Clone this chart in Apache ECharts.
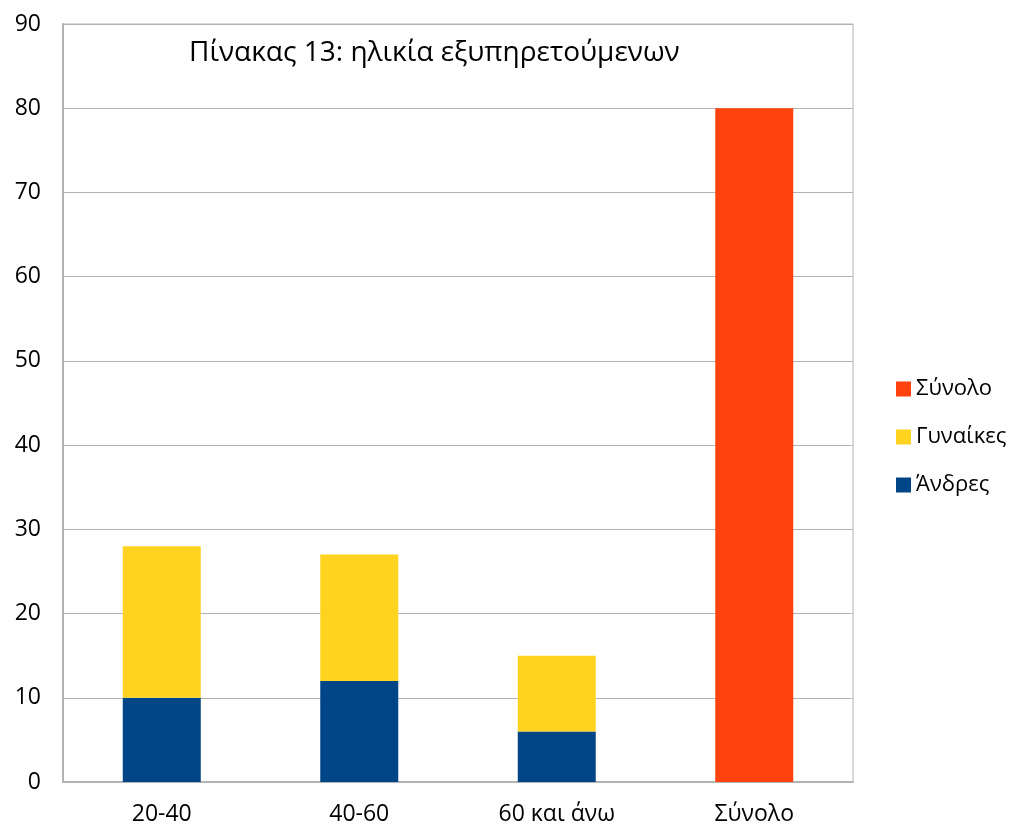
<!DOCTYPE html>
<html>
<head>
<meta charset="utf-8">
<script src="https://cdn.jsdelivr.net/npm/echarts@6/dist/echarts.min.js"></script>
<style>
    html, body { margin: 0; padding: 0; background: #fff; }
</style>
</head>
<body>
<div style="width:1010px;height:827px;" id="chart_con"></div>
<script>
// data
var categories = ['20-40', '40-60', '60 και άνω', 'Σύνολο'];
var andres = [10, 12, 6, '-'];
var gynaikes = [18, 15, 9, '-'];
var synolo = ['-', '-', '-', 80];
var yTicks = [0, 10, 20, 30, 40, 50, 60, 70, 80, 90];

var fontName = '"Open Sans", "Noto Sans", sans-serif';
var gridColor = '#b3b3b3';

var chart = echarts.init(document.getElementById('chart_con'));
var option = {
    animation: false,
    backgroundColor: '#fff',
    title: {
        text: 'Πίνακας 13: ηλικία εξυπηρετούμενων',
        left: 184,
        top: 34,
        textStyle: { fontFamily: fontName, fontSize: 28, fontWeight: 'normal', color: '#000' }
    },
    legend: {
        orient: 'vertical',
        left: 891,
        top: 373,
        itemWidth: 15,
        itemHeight: 15,
        itemGap: 26,
        icon: 'rect',
        data: ['Σύνολο', 'Γυναίκες', 'Άνδρες'],
        textStyle: { fontFamily: fontName, fontSize: 22, color: '#000' }
    },
    grid: {
        left: 63,
        top: 24,
        width: 790,
        height: 758,
        show: true,
        borderColor: gridColor,
        borderWidth: 1
    },
    xAxis: {
        type: 'category',
        data: categories,
        axisTick: { show: false },
        axisLine: { lineStyle: { color: gridColor, width: 2 } },
        axisLabel: { fontFamily: fontName, fontSize: 23, color: '#000', margin: 21 }
    },
    yAxis: {
        type: 'value',
        min: yTicks[0],
        max: yTicks[yTicks.length - 1],
        interval: 10,
        axisLine: { show: true, lineStyle: { color: gridColor, width: 2 } },
        axisTick: { show: false },
        splitLine: { lineStyle: { color: gridColor, width: 1 } },
        axisLabel: { fontFamily: fontName, fontSize: 23, color: '#000', margin: 22 }
    },
    series: [
        { name: 'Άνδρες', type: 'bar', stack: 'a', barWidth: 78, data: andres, itemStyle: { color: '#004586' } },
        { name: 'Γυναίκες', type: 'bar', stack: 'a', barWidth: 78, data: gynaikes, itemStyle: { color: '#ffd320' } },
        { name: 'Σύνολο', type: 'bar', stack: 'a', barWidth: 78, data: synolo, itemStyle: { color: '#ff420e' } }
    ]
};
chart.setOption(option);
window.addEventListener('resize', function () {
    chart.resize();
});
</script>
</body>
</html>
